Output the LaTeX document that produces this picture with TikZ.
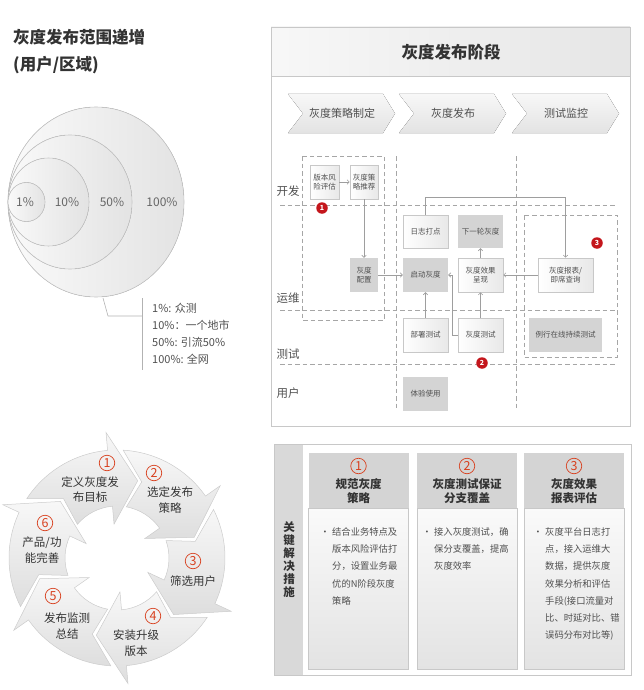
\documentclass[tikz,border=0pt]{standalone}
\usepackage{fontspec}
\setmainfont{Noto Sans CJK SC}
\usetikzlibrary{arrows.meta}
\definecolor{inkdark}{HTML}{333333}
\definecolor{inkgray}{HTML}{505050}
\definecolor{rulegray}{HTML}{C8C8C8}
\definecolor{dashgray}{HTML}{A6A6A6}
\definecolor{boxdark}{HTML}{D4D4D4}
\definecolor{stripgray}{HTML}{D9D9D9}
\definecolor{numred}{HTML}{D8401E}
\definecolor{badgered}{HTML}{C4161C}
\tikzset{
  title/.style={anchor=west, inner sep=0pt, text=inkdark,
    font=\fontsize{16.5}{16.5}\selectfont\bfseries},
  ring/.style={draw=black!22, line width=0.6pt, left color=black!2, right color=black!11},
  pct/.style={inner sep=0pt, text=black!60, font=\fontsize{12}{12}\selectfont},
  leader/.style={draw=black!30, line width=0.6pt},
  legend/.style={anchor=west, inner sep=0pt, text=inkgray, font=\fontsize{11}{11}\selectfont},
  panel/.style={draw=rulegray, line width=0.9pt},
  chev/.style={top color=black!3, bottom color=black!11},
  chevtxt/.style={inner sep=0pt, text=inkgray, font=\fontsize{11}{11}\selectfont},
  lanetxt/.style={inner sep=0pt, text=inkgray, font=\fontsize{11.5}{11.5}\selectfont},
  lanesep/.style={draw=dashgray, line width=0.8pt, dash pattern=on 4.5pt off 3pt},
  bx/.style 2 args={minimum width=#1pt, minimum height=#2pt},
  lightbox/.style={draw=rulegray, line width=0.6pt, left color=white, right color=black!9,
    inner sep=0pt, align=center, text=inkgray, font=\fontsize{7.5}{9.5}\selectfont},
  darkbox/.style={fill=boxdark, inner sep=0pt, align=center, text=inkgray,
    font=\fontsize{7.5}{9.5}\selectfont},
  flow/.style={draw=black!38, line width=0.6pt, -{Straight Barb[length=2.2pt,width=4.5pt]}},
  badge/.style={circle, fill=badgered, text=white, inner sep=0pt, minimum size=11.5pt,
    font=\fontsize{7}{7}\selectfont\bfseries},
  numcirc/.style={circle, draw=numred, text=numred, line width=0.7pt, inner sep=0pt,
    minimum size=15.5pt, font=\fontsize{12.5}{12.5}\selectfont},
  cyclearrow/.style={draw=black!20, line width=0.5pt, top color=black!3, bottom color=black!13},
  cyctxt/.style={inner sep=0pt, align=center, text=inkdark, font=\fontsize{11.5}{15.5}\selectfont},
  sidetxt/.style={inner sep=0pt, align=center, text=inkdark, font=\fontsize{11.5}{13}\selectfont\bfseries},
  colhead/.style={fill=boxdark, inner sep=0pt, minimum width=100pt, minimum height=55pt},
  colbody/.style={draw=rulegray, line width=0.6pt, top color=black!2, bottom color=black!11,
    inner sep=0pt, minimum width=100pt, minimum height=161pt},
  coltitle/.style={inner sep=0pt, align=center, text=inkdark, font=\fontsize{11.5}{14}\selectfont\bfseries},
  bodytxt/.style={anchor=north west, inner sep=0pt, align=left, text=inkgray,
    font=\fontsize{9.3}{17.2}\selectfont},
}
\begin{document}
\begin{tikzpicture}[x=1pt,y=-1pt]
  \useasboundingbox (0,0) rectangle (643,690);
  % rollout scope
  \node[title] (ttl) at (13,37) {灰度发布范围递增};
  \node[title] (ttlsub) at (13,65) {(用户/区域)};
  \filldraw[ring] (96,202) ellipse [x radius=88pt, y radius=95pt];
  \filldraw[ring] (70,202) ellipse [x radius=62pt, y radius=67pt];
  \filldraw[ring] (48.5,202) ellipse [x radius=40.5pt, y radius=44pt];
  \filldraw[ring] (26.5,202) ellipse [x radius=18.5pt, y radius=19.5pt];
  \node[pct] (p1) at (25,202) {1\%};
  \node[pct] (p10) at (67,202) {10\%};
  \node[pct] (p50) at (112,202) {50\%};
  \node[pct] (p100) at (162,202) {100\%};
  \coordinate (cb) at (103,298);
  \coordinate (ck) at (108,316);
  \coordinate (ce) at (142,316);
  \coordinate (vt) at (142,298);
  \coordinate (vb) at (142,370);
  \draw[leader] (cb) -- (ck) -- (ce);
  \draw[leader] (vt) -- (vb);
  \foreach \t [count=\i] in {1\%: 众测, 10\%：一个地市, 50\%: 引流50\%, 100\%: 全网}
    \node[legend] (lg\i) at (152,{291+17*\i}) {\t};

  % release stages
  \filldraw[panel, left color=black!3, right color=black!10] (271,27) rectangle (630,76);
  \draw[panel] (271,76) rectangle (630,426);
  \node[title, anchor=center] (stage) at (451,52) {灰度发布阶段};
  \foreach \x/\n/\t in {288/cs/灰度策略制定, 399/cp/灰度发布, 512/cm/测试监控} {
    \fill[chev] (\x,94) -- ++(95,0) -- ++(12,19.5) -- ++(-12,19.5) -- ++(-95,0) -- ++(15,-19.5) -- cycle;
    \node[chevtxt] (\n) at (\x+54,113.5) {\t};
  }
  \node[lanetxt] (ldev) at (288,191) {开发};
  \node[lanetxt] (lops) at (288,298) {运维};
  \node[lanetxt] (ltest) at (288,354) {测试};
  \node[lanetxt] (luser) at (288,393) {用户};
  \draw[lanesep] (280,205) -- (617,205);
  \draw[lanesep] (280,310) -- (617,310);
  \draw[lanesep] (280,364) -- (617,364);
  \draw[lanesep] (396,156) -- (396,410);
  \draw[lanesep] (516,156) -- (516,410);
  \draw[lanesep] (302,156) rectangle (384,320);
  \draw[lanesep] (524,215) rectangle (617,357);

  \node[lightbox, bx={29}{34}] (rsk) at (324.5,182) {版本风\\险评估};
  \node[lightbox, bx={28}{34}] (rec) at (364,182) {灰度策\\略推荐};
  \node[darkbox, bx={28}{34}] (cfg) at (364,275) {灰度\\配置};
  \node[lightbox, bx={45}{33}] (log) at (425.5,231.5) {日志打点};
  \node[darkbox, bx={45}{33}] (nxt) at (480.5,231.5) {下一轮灰度};
  \node[darkbox, bx={45}{34}] (go) at (425.5,275) {启动灰度};
  \node[lightbox, bx={45}{34}] (eff) at (480.5,275) {灰度效果\\呈现};
  \node[lightbox, bx={55}{34}] (rpt) at (565.5,275) {灰度报表/\\即席查询};
  \node[lightbox, bx={45}{34}] (dep) at (425.5,335) {部署测试};
  \node[lightbox, bx={45}{34}] (gt) at (480.5,335) {灰度测试};
  \node[darkbox, bx={73}{34}] (rt) at (565.5,335) {例行在线持续测试};
  \node[darkbox, bx={45}{34}] (usr) at (425.5,394) {体验使用};

  \draw[flow] (rsk) -- (rec);
  \draw[flow] (rec) -- (cfg);
  \draw[flow] (cfg) -- (go);
  \draw[flow] (dep) -- (go);
  \draw[flow] (gt.west) -- ++(-5,0) |- (go.east);
  \draw[flow] (gt) -- (eff);
  \draw[flow] (eff) -- (nxt);
  \draw[flow] (rpt) -- (eff);
  \draw[flow] (log.north) -- ++(0,-17) -| (rpt.north);

  \node[badge] (b1) at (322,208) {1};
  \node[badge] (b2) at (482,363) {2};
  \node[badge] (b3) at (597,243) {3};

  % release cycle
  \begin{scope}[shift={(117,558)}, y=1pt]
    \foreach \k in {0,...,5} {
      \pgfmathsetmacro\b{95-60*\k}
      \path[cyclearrow] ({\b+51.7}:108) arc[start angle=\b+51.7, end angle=\b, radius=108]
        -- (\b:126) -- ({\b-20}:80) -- (\b:34) -- (\b:52)
        arc[start angle=\b, end angle=\b+44.6, radius=52] -- ({\b+37}:80) -- cycle;
    }
  \end{scope}
  \node[numcirc] (n1) at (107,463) {1};
  \node[numcirc] (n2) at (154,473) {2};
  \node[numcirc] (n3) at (193,561) {3};
  \node[numcirc] (n4) at (153,616) {4};
  \node[numcirc] (n5) at (53,596) {5};
  \node[numcirc] (n6) at (45,523) {6};
  \node[cyctxt] (s1) at (90,489.5) {定义灰度发\\布目标};
  \node[cyctxt] (s2) at (170,500) {选定发布\\策略};
  \node[cyctxt] (s3) at (193,581) {筛选用户};
  \node[cyctxt] (s4) at (136,643) {安装升级\\版本};
  \node[cyctxt] (s5) at (67,626) {发布监测\\总结};
  \node[cyctxt] (s6) at (42,550) {产品/功\\能完善};

  % key measures
  \fill[stripgray] (274,444) rectangle (303,675);
  \draw[panel] (274,444) rectangle (631,675);
  \node[sidetxt] (side) at (289,559.5) {关\\键\\解\\决\\措\\施};
  \foreach \c/\n/\m/\t in {358.5/kA/1/{规范灰度\\策略}, 467/kB/2/{灰度测试保证\\分支覆盖}, 574/kC/3/{灰度效果\\报表评估}} {
    \node[colbody] (\n-body) at (\c,588.5) {};
    \node[colhead] (\n-head) at (\c,480.5) {};
    \node[numcirc] (\n-num) at (\c,466) {\m};
    \node[coltitle] (\n-ttl) at (\c,491) {\t};
  }
  \node[bodytxt] (tA) at (332,527.5) {\llap{·\hspace{2.5pt}}结合业务特点及\\版本风险评估打\\分，设置业务最\\优的N阶段灰度\\策略};
  \node[bodytxt] (tB) at (434,527.5) {\llap{·\hspace{2.5pt}}接入灰度测试，确\\保分支覆盖，提高\\灰度效率};
  \node[bodytxt] (tC) at (545,527.5) {\llap{·\hspace{2.5pt}}灰度平台日志打\\点，接入运维大\\数据，提供灰度\\效果分析和评估\\手段(接口流量对\\比、时延对比、错\\误码分布对比等)};
\end{tikzpicture}
\end{document}
